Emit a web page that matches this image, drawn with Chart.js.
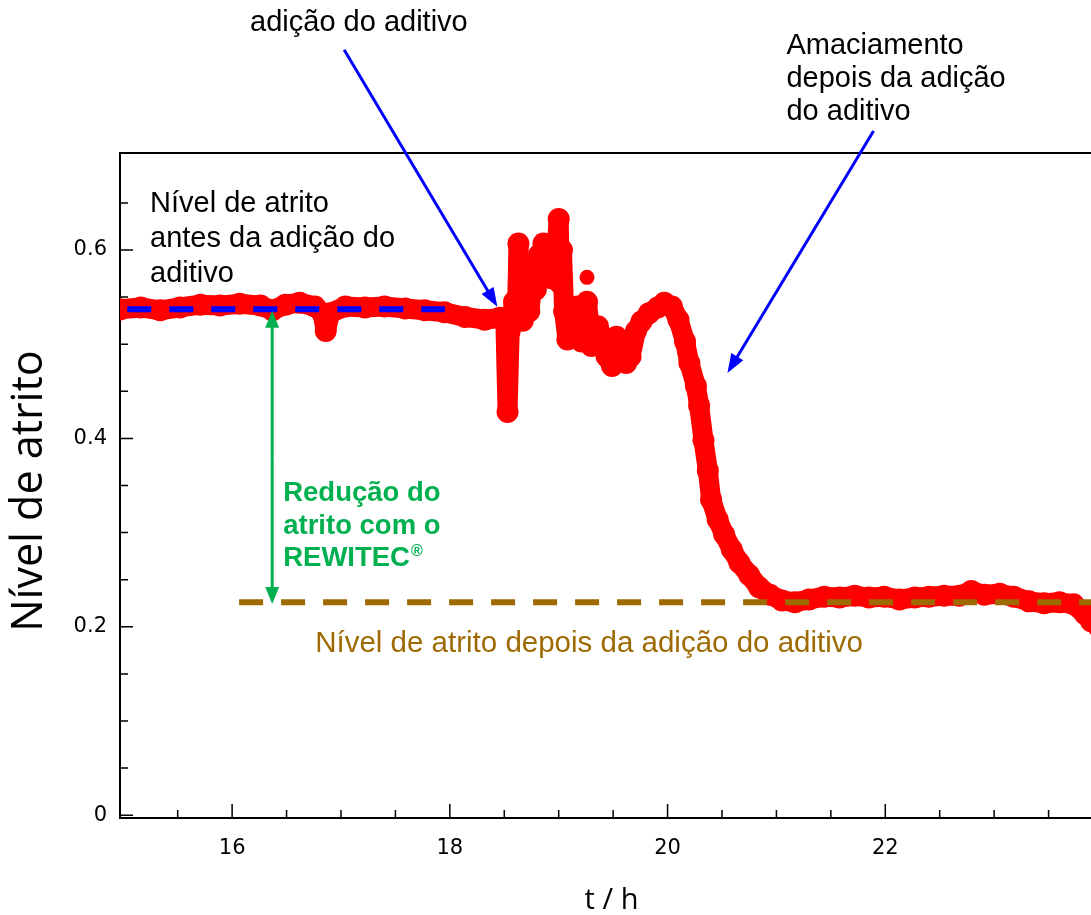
<!DOCTYPE html>
<html>
<head>
<meta charset="utf-8">
<script src="https://cdn.jsdelivr.net/npm/chart.js@4.4.1/dist/chart.umd.min.js"></script>
<style>
  html, body { margin: 0; padding: 0; background: #fff; overflow: hidden; }
  #wrap { width: 1114px; height: 915px; }
</style>
</head>
<body>
<div id="wrap"><canvas id="chartCanvas" width="1114" height="915"></canvas></div>
<script>
// friction level, t in hours
const timeH = [
  14.97, 15.16, 15.34, 15.52, 15.71, 15.89, 16.07, 16.26, 16.37, 16.49,
  16.62, 16.76, 16.83, 16.86, 16.90, 17.04, 17.22, 17.40, 17.59, 17.77,
  17.95, 18.14, 18.32, 18.46, 18.51, 18.53, 18.55, 18.59, 18.62, 18.63,
  18.65, 18.67, 18.70, 18.73, 18.76, 18.79, 18.82, 18.84, 18.86, 18.88,
  18.90, 18.93, 18.96, 18.98, 19.00, 19.01, 19.03, 19.05, 19.08, 19.12,
  19.17, 19.21, 19.26, 19.30, 19.36, 19.40, 19.44, 19.49, 19.53, 19.58,
  19.62, 19.66, 19.71, 19.76, 19.83, 19.91, 19.97, 20.04, 20.10, 20.16,
  20.20, 20.26, 20.29, 20.33, 20.37, 20.40, 20.46, 20.52, 20.59, 20.66,
  20.75, 20.84, 20.94, 21.05, 21.17, 21.30, 21.44, 21.58, 21.72, 21.85,
  21.99, 22.13, 22.27, 22.40, 22.54, 22.68, 22.79, 22.91, 23.05, 23.18,
  23.32, 23.46, 23.60, 23.73, 23.83, 23.89, 23.96
];
const friction = [
  0.537, 0.539, 0.536, 0.539, 0.542, 0.541, 0.543, 0.541, 0.536, 0.542,
  0.544, 0.540, 0.533, 0.514, 0.533, 0.540, 0.539, 0.540, 0.538, 0.536,
  0.534, 0.529, 0.526, 0.528, 0.524, 0.428, 0.514, 0.545, 0.549, 0.607,
  0.545, 0.525, 0.545, 0.535, 0.565, 0.558, 0.595, 0.585, 0.607, 0.600,
  0.575, 0.570, 0.590, 0.600, 0.633, 0.565, 0.600, 0.535, 0.505, 0.524,
  0.540, 0.503, 0.545, 0.498, 0.519, 0.508, 0.487, 0.477, 0.508, 0.498,
  0.480, 0.487, 0.514, 0.524, 0.533, 0.539, 0.544, 0.540, 0.526, 0.503,
  0.480, 0.456, 0.435, 0.398, 0.366, 0.335, 0.314, 0.298, 0.282, 0.268,
  0.255, 0.242, 0.234, 0.228, 0.226, 0.229, 0.232, 0.231, 0.233, 0.231,
  0.232, 0.229, 0.231, 0.232, 0.233, 0.233, 0.238, 0.234, 0.235, 0.232,
  0.227, 0.225, 0.226, 0.224, 0.214, 0.206, 0.200
];
const strayTime = [19.26];
const strayFriction = [0.571];

const levelBefore = 0.537;
const levelBeforeSpan = [15.037, 17.954];
const levelAfter = 0.226;
const levelAfterSpan = [16.064, 24.2];

const xTicks = [16, 18, 20, 22];
const yTicks = [0, 0.2, 0.4, 0.6];
const xMinorTicks = [15.5, 16.5, 17, 17.5, 18.5, 19, 19.5, 20.5, 21, 21.5, 22.5, 23, 23.5];
const yMinorTicks = [0.05, 0.1, 0.15, 0.25, 0.3, 0.35, 0.45, 0.5, 0.55, 0.65];

const RED = '#ff0000';
const BLUE = '#0000ff';
const GREEN = '#00b050';
const BROWN = '#9e6a03';
const TXT = '"Liberation Sans", Arial, sans-serif';
const TICKFONT = '"DejaVu Sans", Verdana, sans-serif';

function arrow(ctx, x1, y1, x2, y2, color, width, len, half) {
  const a = Math.atan2(y2 - y1, x2 - x1);
  ctx.save();
  ctx.strokeStyle = color;
  ctx.fillStyle = color;
  ctx.lineWidth = width;
  ctx.beginPath();
  ctx.moveTo(x1, y1);
  ctx.lineTo(x2 - Math.cos(a) * len * 0.8, y2 - Math.sin(a) * len * 0.8);
  ctx.stroke();
  ctx.beginPath();
  ctx.moveTo(x2, y2);
  ctx.lineTo(x2 - Math.cos(a) * len - Math.sin(a) * half, y2 - Math.sin(a) * len + Math.cos(a) * half);
  ctx.lineTo(x2 - Math.cos(a) * len + Math.sin(a) * half, y2 - Math.sin(a) * len - Math.cos(a) * half);
  ctx.closePath();
  ctx.fill();
  ctx.restore();
}

const decorations = {
  id: 'decorations',
  afterDraw(chart) {
    const ctx = chart.ctx;
    const xs = chart.scales.x, ys = chart.scales.y;
    const X = v => xs.getPixelForValue(v);
    const Y = v => ys.getPixelForValue(v);
    const area = chart.chartArea;

    // frame top + inward ticks
    ctx.save();
    ctx.strokeStyle = '#000';
    ctx.lineWidth = 2;
    ctx.beginPath();
    ctx.moveTo(area.left - 1, area.top);
    ctx.lineTo(area.right, area.top);
    ctx.lineTo(area.right, area.bottom);
    ctx.stroke();
    ctx.lineWidth = 1.5;
    ctx.beginPath();
    xTicks.forEach(v => { ctx.moveTo(X(v), area.bottom); ctx.lineTo(X(v), area.bottom - 14); });
    xMinorTicks.forEach(v => { ctx.moveTo(X(v), area.bottom); ctx.lineTo(X(v), area.bottom - 8); });
    yTicks.forEach(v => { ctx.moveTo(area.left, Y(v)); ctx.lineTo(area.left + 13, Y(v)); });
    yMinorTicks.forEach(v => { ctx.moveTo(area.left, Y(v)); ctx.lineTo(area.left + 8, Y(v)); });
    ctx.stroke();
    ctx.restore();

    // arrows
    arrow(ctx, X(17.029), Y(0.8126), X(18.436), Y(0.5397), BLUE, 3, 19, 7);
    arrow(ctx, X(21.892), Y(0.7264), X(20.55), Y(0.4695), BLUE, 3, 19, 7);
    const gx = X(16.368);
    arrow(ctx, gx, Y(0.38), gx, Y(0.5354), GREEN, 3, 17, 7);
    arrow(ctx, gx, Y(0.38), gx, Y(0.2243), GREEN, 3, 17, 7);

    // labels
    ctx.save();
    ctx.textAlign = 'left';
    ctx.textBaseline = 'alphabetic';
    ctx.fillStyle = '#000';
    ctx.font = '29px ' + TXT;
    ctx.fillText('adição do aditivo', X(16.165), Y(0.8328));
    ctx.fillText('Amaciamento', X(21.092), Y(0.8083));
    ctx.fillText('depois da adição', X(21.092), Y(0.7732));
    ctx.fillText('do aditivo', X(21.092), Y(0.7382));
    ctx.fillText('Nível de atrito', X(15.246), Y(0.6405));
    ctx.fillText('antes da adição do', X(15.246), Y(0.6033));
    ctx.fillText('aditivo', X(15.246), Y(0.5662));

    ctx.fillStyle = GREEN;
    ctx.font = 'bold 27.5px ' + TXT;
    ctx.fillText('Redução do', X(16.469), Y(0.3336));
    ctx.fillText('atrito com o', X(16.469), Y(0.2986));
    const rx = X(16.469), ry = Y(0.2646);
    ctx.fillText('REWITEC', rx, ry);
    const w = ctx.measureText('REWITEC').width;
    ctx.font = 'bold 16px ' + TXT;
    ctx.fillText('®', rx + w + 1, ry - 10);

    ctx.fillStyle = BROWN;
    ctx.font = '29.5px ' + TXT;
    ctx.fillText('Nível de atrito depois da adição do aditivo', X(16.763), Y(0.1733));
    ctx.restore();
  }
};

const ctx = document.getElementById('chartCanvas').getContext('2d');
new Chart(ctx, {
  type: 'scatter',
  data: {
    datasets: [
      {
        label: 'antes',
        data: levelBeforeSpan.map(t => ({ x: t, y: levelBefore })),
        showLine: true,
        borderColor: BLUE,
        borderWidth: 6,
        borderDash: [24, 18],
        pointRadius: 0,
        clip: 0,
        order: 1
      },
      {
        label: 'depois',
        data: levelAfterSpan.map(t => ({ x: t, y: levelAfter })),
        showLine: true,
        borderColor: BROWN,
        borderWidth: 6,
        borderDash: [24, 18],
        pointRadius: 0,
        clip: 0,
        order: 1
      },
      {
        label: 'atrito',
        data: timeH.map((t, i) => ({ x: t, y: friction[i] })),
        showLine: true,
        borderColor: RED,
        backgroundColor: RED,
        borderWidth: 20,
        borderJoinStyle: 'round',
        borderCapStyle: 'round',
        pointRadius: 11,
        pointBorderWidth: 0,
        pointBackgroundColor: RED,
        clip: 0,
        order: 3
      },
      {
        label: 'isolado',
        data: strayTime.map((t, i) => ({ x: t, y: strayFriction[i] })),
        pointRadius: 7.5,
        pointBorderWidth: 0,
        pointBackgroundColor: RED,
        clip: 0,
        order: 3
      }
    ]
  },
  options: {
    responsive: false,
    animation: false,
    layout: { padding: { top: 153, right: 3, left: 0, bottom: 0 } },
    plugins: { legend: { display: false }, tooltip: { enabled: false } },
    scales: {
      x: {
        type: 'linear',
        min: 14.97,
        max: 24,
        afterBuildTicks: s => { s.ticks = xTicks.map(v => ({ value: v })); },
        afterFit: s => { s.height = 97; },
        grid: { display: false, drawTicks: false },
        border: { display: true, color: '#000', width: 2 },
        ticks: {
          padding: 18,
          color: '#000',
          font: { family: TICKFONT, size: 21 },
          callback: v => String(v)
        },
        title: {
          display: true,
          text: 't / h',
          color: '#000',
          padding: { top: 0, bottom: 0 },
          font: { family: '"Open Sans", sans-serif', size: 29, lineHeight: 1 }
        }
      },
      y: {
        min: -0.003,
        max: 0.703,
        afterBuildTicks: s => { s.ticks = yTicks.map(v => ({ value: v })); },
        afterFit: s => { s.width = 120; },
        grid: { display: false, drawTicks: false },
        border: { display: true, color: '#000', width: 2 },
        ticks: {
          padding: 13,
          color: '#000',
          font: { family: TICKFONT, size: 21 },
          callback: v => (v === 0 ? '0' : v.toFixed(1))
        },
        title: {
          display: true,
          text: 'Nível de atrito\u00a0',
          color: '#000',
          padding: { top: 4, bottom: 0 },
          font: { family: '"Open Sans", sans-serif', size: 43, lineHeight: 1.2 }
        }
      }
    }
  },
  plugins: [decorations]
});
</script>
</body>
</html>
